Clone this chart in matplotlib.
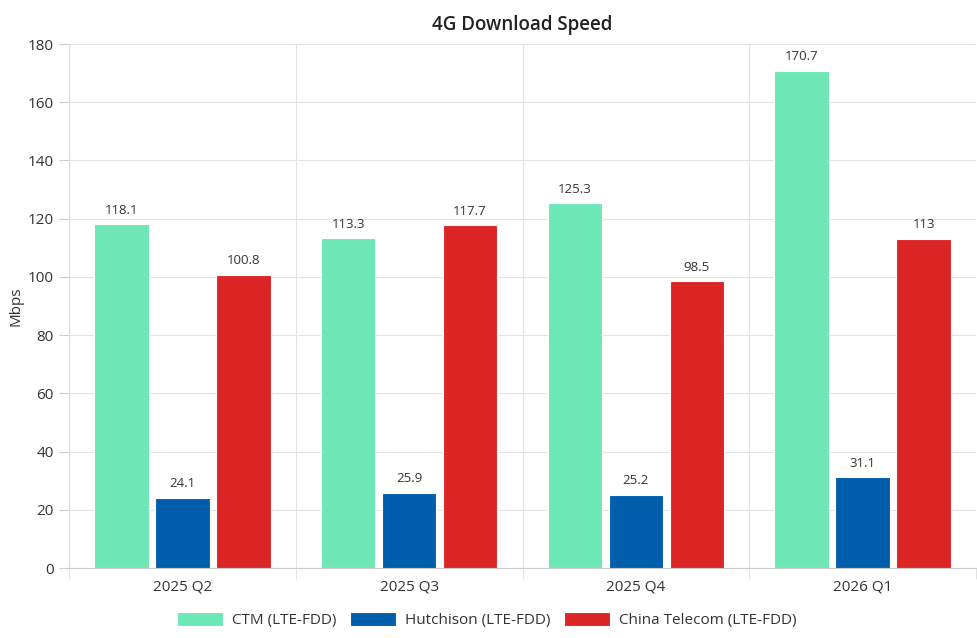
import matplotlib
matplotlib.use("Agg")
import matplotlib.pyplot as plt
import numpy as np

categories = ["2025 Q2", "2025 Q3", "2025 Q4", "2026 Q1"]
series_names = ["CTM (LTE-FDD)", "Hutchison (LTE-FDD)", "China Telecom (LTE-FDD)"]
ctm = [118.1, 113.3, 125.3, 170.7]
hutchison = [24.1, 25.9, 25.2, 31.1]
china_telecom = [100.8, 117.7, 98.5, 113]
colors = ["#6ee7b7", "#005eac", "#dc2626"]
yticks = [0, 20, 40, 60, 80, 100, 120, 140, 160, 180]

plt.rcParams['font.family'] = ['Open Sans', 'DejaVu Sans']
fig = plt.figure(figsize=(9.77, 6.38), dpi=100)
ax = fig.add_axes([69/977, 1-568/638, (976-69)/977, (568-44)/638])

x = np.arange(len(categories))
offsets = [-0.269, 0, 0.269]
width = 0.24
for vals, off, col, name in zip([ctm, hutchison, china_telecom], offsets, colors, series_names):
    bars = ax.bar(x + off, vals, width, color=col, label=name, edgecolor='white', linewidth=0.8, zorder=3)
    for b, v in zip(bars, vals):
        txt = f"{v:g}"
        ax.annotate(txt, (b.get_x() + b.get_width()/2, v), xytext=(0, 5.5), textcoords='offset points',
                    ha='center', va='bottom', fontsize=9.5, color='#333333')

ax.set_xlim(-0.5, 3.5)
ax.set_ylim(0, 180)
ax.set_yticks(yticks)
ax.tick_params(axis='y', length=7, color='#cccccc', labelsize=11, labelcolor='#333333', pad=4)
ax.set_xticks(x)
ax.set_xticklabels(categories)
ax.tick_params(axis='x', length=0, labelsize=11, labelcolor='#333333', pad=8)
ax.set_xticks(np.arange(-0.5, 4.0, 1.0), minor=True)
ax.tick_params(axis='x', which='minor', length=8, color='#dddddd')
ax.grid(axis='y', color='#e3e3e3', linewidth=0.8, zorder=0)
ax.grid(axis='x', which='minor', color='#e3e3e3', linewidth=0.8, zorder=0)
for s in ['top', 'right']:
    ax.spines[s].set_visible(False)
ax.spines['left'].set_color('#dddddd')
ax.spines['bottom'].set_color('#cccccc')
ax.set_ylabel("Mbps", fontsize=11, color='#333333', labelpad=3)
ax.set_title("4G Download Speed", fontsize=13.5, fontweight='semibold', color='#222222', pad=10)

leg = fig.legend(loc='center', bbox_to_anchor=(0.498, 1-620/638), ncol=3, frameon=False,
                 fontsize=11, handlelength=3.0, handleheight=1.1, columnspacing=0.9, handletextpad=0.6)
for t in leg.get_texts():
    t.set_color('#333333')

fig.savefig("out.png", dpi=100)
